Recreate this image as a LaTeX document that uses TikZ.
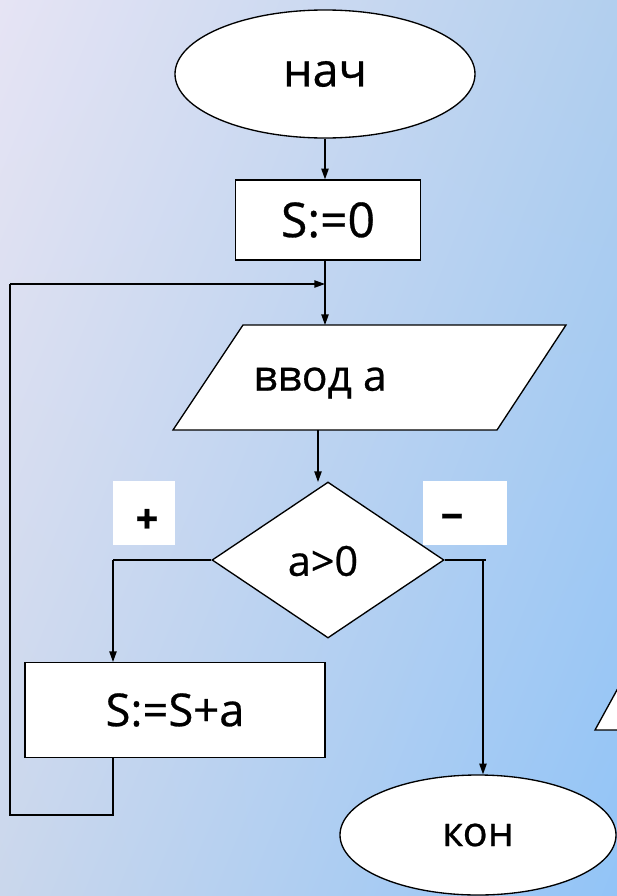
\documentclass[tikz,border=0pt]{standalone}
\usepackage{fontspec}
\setmainfont{Open Sans}
\newfontfamily\cfont{Open Sans}[FakeBold=0.6]
\usetikzlibrary{shapes.geometric,arrows.meta,shadings}
\definecolor{bgTL}{RGB}{230,228,244}
\definecolor{bgTR}{RGB}{178,207,238}
\definecolor{bgBL}{RGB}{202,215,236}
\definecolor{bgBR}{RGB}{146,196,247}
\tikzset{
  box/.style={draw=black,line width=1pt,fill=white,inner sep=0pt},
  term/.style={box,ellipse},
  proc/.style={box,rectangle},
  dec/.style={box,diamond},
  tag/.style={fill=white,inner sep=0pt},
  flow/.style={line width=1pt,-{Triangle[length=8pt,width=5.5pt]}},
  wire/.style={line width=1pt},
  every node/.append style={font=\cfont},
}
\begin{document}
\begin{tikzpicture}[x=0.75pt,y=-0.75pt]
\useasboundingbox (0,0) rectangle (617,896);
\shade[upper left=bgTL,upper right=bgTR,lower left=bgBL,lower right=bgBR] (0,0) rectangle (617,896);
% partial shape at right edge
\draw[line width=1pt,fill=white] (595,730) -- (640,648) -- (680,730) -- cycle;
% nodes
\node[term,minimum width=225pt,minimum height=96pt] (start) at (325,74) {\fontsize{35pt}{40pt}\selectfont нач};
\node[proc,minimum width=139pt,minimum height=60pt] (s0) at (328,220) {\fontsize{36pt}{42pt}\selectfont S:=0};
\draw[line width=1pt,fill=white] (243,325) coordinate (inTL) -- (566,325) -- (497,430) -- (173,430) -- cycle;
\node (inp) at (320,383) {\fontsize{32pt}{38pt}\selectfont ввод а};
\coordinate (inTop) at (325,325);
\coordinate (inBot) at (318,430);
\node[dec,minimum width=174pt,minimum height=117pt] (cond) at (328,560) {};
\node (condt) at (323,561) {\fontsize{31pt}{36pt}\selectfont а>0};
\coordinate (condTop) at (318,482);
\node[tag,minimum width=46.5pt,minimum height=48pt] (pbox) at (144,513) {};
\node at (147,521) {\fontsize{30pt}{34pt}\selectfont\bfseries +};
\node[tag,minimum width=63pt,minimum height=48pt] (mbox) at (465,513) {};
\node at (452,522) {\fontsize{30pt}{34pt}\selectfont\bfseries −};
\node[proc,minimum width=225pt,minimum height=71pt] (add) at (175,710) {\fontsize{34pt}{40pt}\selectfont S:=S+a};
\node[term,minimum width=207pt,minimum height=90pt] (stop) at (478,835) {\fontsize{31pt}{36pt}\selectfont кон};
% helper coordinates
\coordinate (j) at (325,284);
\coordinate (lc) at (113,560);
\coordinate (rc) at (483,560);
\coordinate (ab) at (113,758);
\coordinate (lb) at (113,815);
\coordinate (lbl) at (10,815);
\coordinate (lt) at (10,284);
% connectors
\draw[flow] (start.south) -- (start.south |- s0.north);
\draw[wire] (325,260) -- (j);
\draw[flow] (j) -- (inTop);
\draw[flow] (inBot) -- (condTop);
\draw[wire] (cond.west) -- (lc);
\draw[flow] (lc) -- (lc |- add.north);
\draw[wire] (cond.east) -- (486,560);
\draw[flow] (rc) -- (rc |- stop.north);
\draw[wire] (ab) -- (lb) -- (lbl) -- (lt);
\draw[flow] (lt) -- (j);
\end{tikzpicture}
\end{document}
